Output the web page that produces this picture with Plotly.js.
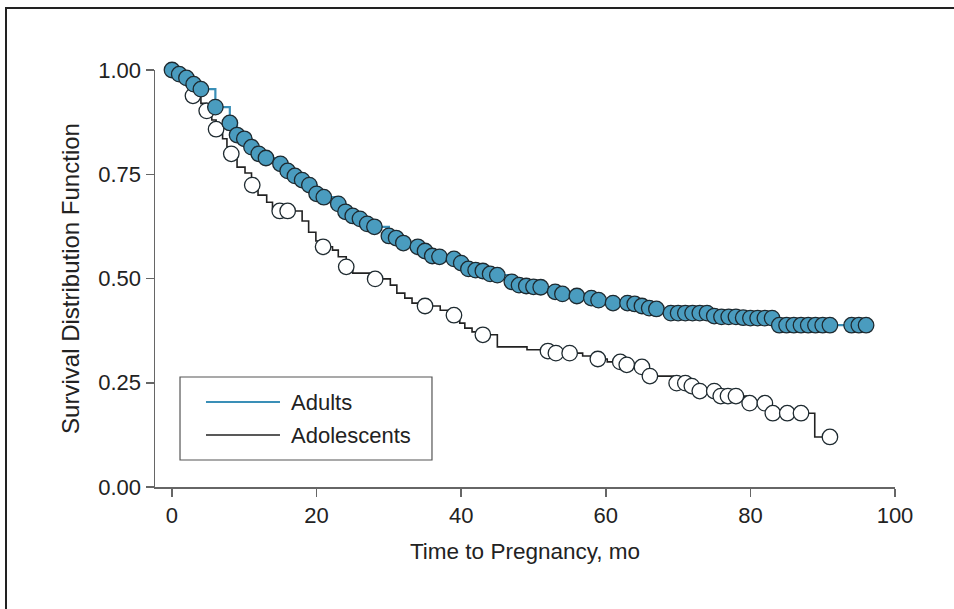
<!DOCTYPE html>
<html>
<head>
<meta charset="utf-8">
<script src="https://cdn.plot.ly/plotly-3.0.1.min.js"></script>
<style>
  html, body { margin: 0; padding: 0; background: #fff; }
  #wrap { position: relative; width: 954px; height: 609px; overflow: hidden; }
  #chart { width: 954px; height: 609px; }
  #frame { position: absolute; left: 5px; top: 7px; width: 960px; height: 620px;
           border-top: 2px solid #222; border-left: 2px solid #222; pointer-events: none; }
</style>
</head>
<body>
<div id="wrap">
  <div id="chart"></div>
  <div id="frame"></div>
</div>
<script>
// ---- Data ----
// Adults: censoring marks (also used as the step curve)
const adultTime = [0,1,2,3,4,6,8,9,10,11,12,13,15,16,17,18,19,20,21,23,24,25,26,27,28,30,31,32,34,35,36,37,39,40,41,42,43,44,45,47,48,49,50,51,53,54,56,58,59,61,63,64,65,66,67,69,70,71,72,73,74,75,76,77,78,79,80,81,82,83,84,85,86,87,88,89,90,91,94,95,96];
const adultSurv = [1.000,0.990,0.981,0.966,0.954,0.911,0.873,0.844,0.835,0.815,0.799,0.789,0.775,0.758,0.746,0.736,0.724,0.703,0.695,0.679,0.660,0.650,0.643,0.631,0.624,0.602,0.597,0.585,0.576,0.566,0.554,0.552,0.547,0.537,0.523,0.520,0.518,0.511,0.508,0.492,0.484,0.482,0.480,0.479,0.468,0.463,0.458,0.453,0.448,0.441,0.441,0.439,0.434,0.429,0.427,0.417,0.417,0.417,0.417,0.417,0.417,0.410,0.408,0.408,0.408,0.406,0.405,0.405,0.405,0.405,0.388,0.388,0.388,0.388,0.388,0.388,0.388,0.388,0.388,0.388,0.388];

// Adolescents: Kaplan-Meier step curve
const adolStepTime = [0,1.0,2.0,2.9,4.0,4.8,5.5,6.1,7.0,7.6,8.2,9.0,10.1,11.0,11.9,13.1,13.9,14.9,18.0,18.9,19.9,20.9,22.2,23.0,24.1,25.0,27.8,30.2,31.1,32.2,33.2,34.5,37.1,38.8,39.8,40.5,41.5,42.6,45.0,49.1,51.6,52.6,56.8,58.6,60.2,62.6,64.5,65.9,69.4,71.6,72.6,75.5,79.5,82.7,88.9,91.0];
const adolStepSurv = [1.000,0.985,0.962,0.938,0.920,0.902,0.880,0.858,0.835,0.815,0.799,0.767,0.753,0.724,0.700,0.683,0.670,0.662,0.638,0.611,0.590,0.576,0.568,0.552,0.528,0.513,0.499,0.484,0.465,0.453,0.441,0.434,0.424,0.412,0.393,0.381,0.372,0.365,0.336,0.329,0.326,0.321,0.314,0.307,0.300,0.293,0.288,0.266,0.249,0.242,0.230,0.218,0.201,0.177,0.120,0.120];
// Adolescents: censoring marks
const adolCensorTime = [2.9,4.8,6.1,8.2,11.1,14.9,16.0,20.9,24.1,28.1,35.0,39.0,43.0,52.0,53.1,55.0,58.9,62.0,62.9,65.0,66.1,69.8,71.0,71.9,73.0,75.0,75.9,76.9,78.0,79.9,82.0,83.1,85.1,87.0,91.0];
const adolCensorSurv = [0.938,0.902,0.858,0.799,0.724,0.662,0.662,0.576,0.528,0.499,0.434,0.412,0.365,0.326,0.321,0.321,0.307,0.300,0.293,0.288,0.266,0.249,0.249,0.242,0.230,0.230,0.218,0.218,0.218,0.201,0.201,0.177,0.177,0.177,0.120];

const xTickVals = [0,20,40,60,80,100];
const xTickText = ['0','20','40','60','80','100'];
const yTickVals = [0,0.25,0.5,0.75,1];
const yTickText = ['0.00','0.25','0.50','0.75','1.00'];

const seriesNames = ['Adults','Adolescents'];
const adultColor = '#4a9cbf';
const adultLine = '#3a8fb7';
const adolLine = '#222222';
const darkOutline = '#1e2a30';

const FONT = 'Liberation Sans, Arial, sans-serif';

const traces = [
  { x: adolStepTime, y: adolStepSurv, type: 'scatter', mode: 'lines', name: seriesNames[1],
    line: { shape: 'hv', color: adolLine, width: 1.6 }, cliponaxis: false, hoverinfo: 'skip', showlegend: false },
  { x: adolCensorTime, y: adolCensorSurv, type: 'scatter', mode: 'markers', name: seriesNames[1], showlegend: false,
    marker: { size: 15.5, color: '#ffffff', line: { color: darkOutline, width: 1.3 } }, cliponaxis: false },
  { x: adultTime, y: adultSurv, type: 'scatter', mode: 'lines', name: seriesNames[0],
    line: { shape: 'hv', color: adultLine, width: 2.2 }, cliponaxis: false, hoverinfo: 'skip', showlegend: false },
  { x: adultTime, y: adultSurv, type: 'scatter', mode: 'markers', name: seriesNames[0], showlegend: false,
    marker: { size: 15.5, color: adultColor, line: { color: darkOutline, width: 1.3 } }, cliponaxis: false }
];

// Legend drawn as a framed box (paper coordinates of the plot area)
const legBox = { x0: 0.0338, x1: 0.3743, y0: 0.0647, y1: 0.2638 };
const legRows = [0.2038, 0.1247];
const legLineX = [0.0689, 0.1689];
const legTextX = 0.1811;
const legColors = [adultLine, adolLine];
const legWidths = [2.2, 1.6];

const shapes = [
  { type: 'rect', xref: 'paper', yref: 'paper', x0: legBox.x0, x1: legBox.x1, y0: legBox.y0, y1: legBox.y1,
    line: { color: '#555', width: 1.2 }, fillcolor: '#ffffff', layer: 'above' }
];
const annotations = [];
seriesNames.forEach((name, i) => {
  shapes.push({ type: 'line', xref: 'paper', yref: 'paper', x0: legLineX[0], x1: legLineX[1],
                y0: legRows[i], y1: legRows[i], line: { color: legColors[i], width: legWidths[i] }, layer: 'above' });
  annotations.push({ xref: 'paper', yref: 'paper', x: legTextX, y: legRows[i], xanchor: 'left', yanchor: 'middle',
                     text: name, showarrow: false, font: { family: FONT, size: 22, color: '#222' } });
});

const layout = {
  width: 954, height: 609,
  margin: { l: 155, r: 59, t: 70, b: 122, autoexpand: false },
  paper_bgcolor: '#ffffff', plot_bgcolor: '#ffffff',
  font: { family: FONT, color: '#222', size: 22 },
  showlegend: false,
  shapes: shapes,
  annotations: annotations,
  xaxis: { range: [-2.35, 100], showline: true, linecolor: '#666', linewidth: 1.5,
           ticks: 'outside', ticklen: 8, tickwidth: 1.5, tickcolor: '#666',
           tickvals: xTickVals, ticktext: xTickText, showgrid: false, zeroline: false,
           tickfont: { family: FONT, size: 22, color: '#222' },
           title: { text: 'Time to Pregnancy, mo', font: { family: FONT, size: 22.5, color: '#222' }, standoff: 16 } },
  yaxis: { range: [0, 1], showline: true, linecolor: '#666', linewidth: 1.5,
           ticks: 'outside', ticklen: 8, tickwidth: 1.5, tickcolor: '#666',
           tickvals: yTickVals, ticktext: yTickText, showgrid: false, zeroline: false,
           tickfont: { family: FONT, size: 22, color: '#222' },
           title: { text: 'Survival Distribution Function', font: { family: FONT, size: 24, color: '#222' }, standoff: 12 } }
};

Plotly.newPlot('chart', traces, layout, { staticPlot: true, displayModeBar: false });
</script>
</body>
</html>
